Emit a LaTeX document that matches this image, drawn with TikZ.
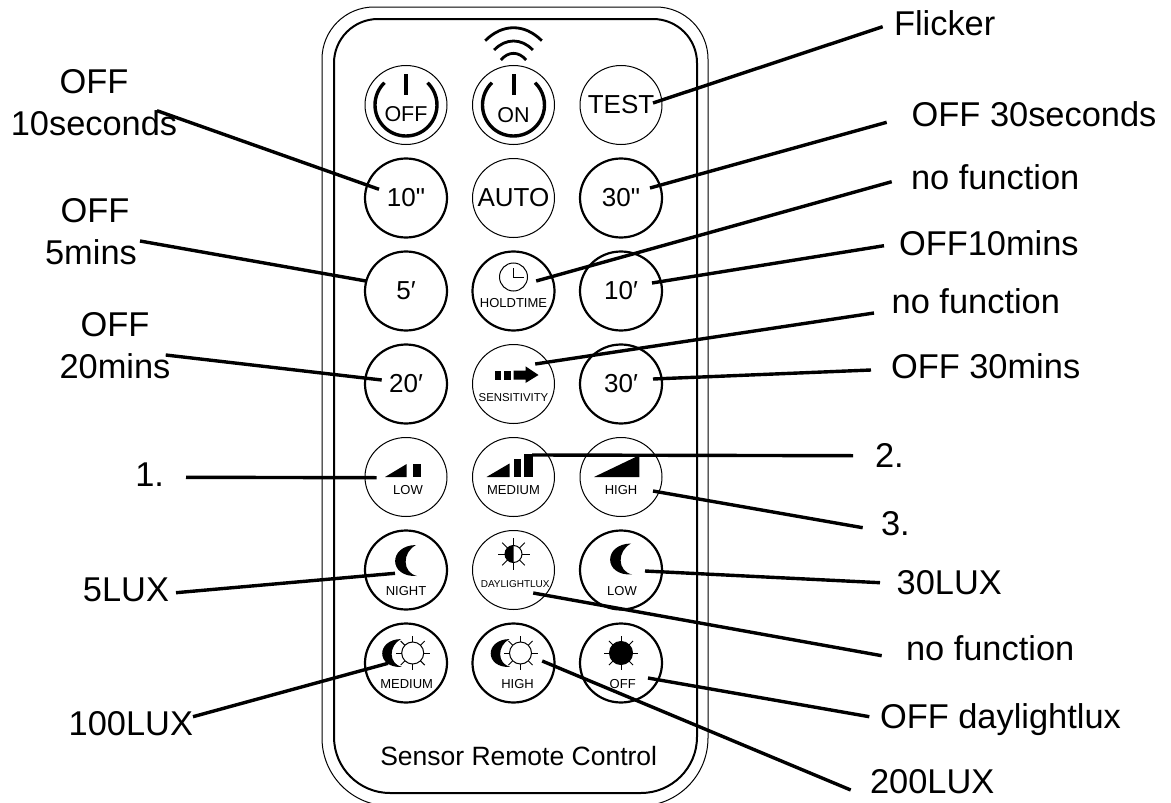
\documentclass[tikz,border=0pt]{standalone}
\usepackage{fontspec}
\setmainfont{Liberation Sans}
\newfontfamily\straightfont{Liberation Sans}[Ligatures=ResetAll]
\usepackage{xcolor}
\usetikzlibrary{positioning,shapes.geometric}

\begin{document}
\begin{tikzpicture}[
  x=1pt, y=-1pt,
  every node/.style={align=center, inner sep=0pt, outer sep=0pt},
  btn/.style={
    draw, ellipse, minimum width=82pt, minimum height=79pt, line width=1pt
  },
  btnb/.style={btn, line width=2.2pt},
  bigtxt/.style={font=\fontsize{26}{30}\selectfont},
  midtxt/.style={font=\fontsize{21.5}{25}\selectfont},
  captxt/.style={font=\fontsize{13}{15}\selectfont},
  note/.style={font=\fontsize{34.4}{41.7}\selectfont},
  lead/.style={line width=3.4pt},
  wave/.style={line width=2.8pt},
  pics/moon/.style={code={
    \fill (10,-15.5) .. controls (-18,-15) and (-18,17) .. (11,15.5)
      .. controls (-4,12) and (-4,-8) .. cycle;
  }},
  pics/sun/.style args={#1/#2}{code={
    \draw[line width=1pt, pic actions] (0,0) circle (#1);
    \foreach \a in {0,45,...,315} \draw[line width=1pt] (\a:#1) -- (\a:#2);
  }},
  pics/power/.style={code={
    \draw[line width=3.4pt] (226:31) arc[start angle=226, end angle=-46, radius=31];
    \draw[line width=4pt] (0,-31) -- (0,-10);
  }}
]
\clip (0,0) rectangle (1171,803);

% housing
\draw[line width=1pt] (322,400) [rounded corners=52pt] -- (322,7) -- (708,7) -- (708,400)
  [rounded corners=68pt] -- (708,806) -- (322,806) -- cycle;
\draw[line width=2pt] (334,400) [rounded corners=44pt] -- (334,19) -- (697,19) -- (697,400)
  [rounded corners=56pt] -- (697,793) -- (334,793) -- cycle;
\node[font=\fontsize{26.5}{30}\selectfont] (title) at (518.7,756) {Sensor Remote Control};

% buttons
\node[btn, label={[midtxt,shift={(0,9)}]center:OFF}] (poweroff) at (406,105) {};
\node[btn, right=25.5pt of poweroff, label={[midtxt,shift={(0,10.5)}]center:ON}] (poweron) {};
\node[btn, right=25.5pt of poweron, label={[bigtxt]center:TEST}] (test) {};

\node[btnb, below=14pt of poweroff, label={[bigtxt]center:\straightfont 10"}] (ten) {};
\node[btn, right=25.5pt of ten, label={[bigtxt]center:AUTO}] (auto) {};
\node[btnb, right=25.5pt of auto, label={[bigtxt]center:\straightfont 30"}] (thirty) {};

\node[btnb, below=14pt of ten, label={[bigtxt]center:5′}] (five) {};
\node[btnb, right=25.5pt of five, label={[captxt,shift={(0,12)}]center:HOLDTIME}] (hold) {};
\node[btnb, right=25.5pt of hold, label={[bigtxt]center:10′}] (tenm) {};

\node[btnb, below=14pt of five, label={[bigtxt]center:20′}] (twenty) {};
\node[btn, right=25.5pt of twenty, label={[font=\fontsize{11.4}{13}\selectfont,shift={(0,14)}]center:SENSITIVITY}] (sens) {};
\node[btnb, right=25.5pt of sens, label={[bigtxt]center:30′}] (thirtym) {};

\node[btn, below=14pt of twenty, label={[captxt,shift={(2,13)}]center:LOW}] (low) {};
\node[btn, right=25.5pt of low, label={[captxt,shift={(0,13)}]center:MEDIUM}] (med) {};
\node[btn, right=25.5pt of med, label={[captxt,shift={(0,13)}]center:HIGH}] (high) {};

\node[btnb, below=14pt of low, label={[captxt,shift={(0,20.7)}]center:NIGHT}] (night) {};
\node[btn, right=25.5pt of night, label={[font=\fontsize{10}{12}\selectfont,shift={(1.7,14)}]center:DAYLIGHTLUX}] (day) {};
\node[btnb, right=25.5pt of day, label={[captxt,shift={(1,20.7)}]center:LOW}] (dim) {};

\node[btnb, below=14pt of night, label={[captxt,shift={(0.7,21)}]center:MEDIUM}] (mix) {};
\node[btnb, right=25.5pt of mix, label={[captxt,shift={(4,21)}]center:HIGH}] (both) {};
\node[btnb, right=25.5pt of both, label={[captxt,shift={(1.7,20.7)}]center:OFF}] (sunoff) {};

% icons
\pic at (poweroff) {power};
\pic at (poweron) {power};
\begin{scope}[shift={(poweron)}]
  \draw[wave] (-28.3,-64.3) .. controls (-11,-81.6) and (11,-81.6) .. (28.3,-64.3);
  \draw[wave] (-19.3,-55) .. controls (-8,-67) and (8,-67) .. (19.3,-55);
  \draw[wave] (-12.6,-45) .. controls (-5,-53.9) and (5,-53.9) .. (12.6,-45);
\end{scope}
\begin{scope}[shift={(hold)}]
  \draw[line width=1pt] (0,-14) circle (14);
  \draw[line width=1pt] (0,-23) -- (0,-14) -- (10,-14);
\end{scope}
\begin{scope}[shift={(sens)}]
  \fill (-19,-13.3) rectangle (-12.3,-4.3);
  \fill (-10,-13.3) rectangle (-2.7,-4.3);
  \fill (0,-13.3) -- (12,-13.3) -- (12,-17.7) -- (25,-9) -- (12,-1) -- (12,-4.3) -- (0,-4.3) -- cycle;
\end{scope}
\begin{scope}[shift={(low)}]
  \fill (-21,0) -- (0.7,0) -- (0.7,-13) -- cycle;
  \fill (7.3,-13) rectangle (14.7,0);
\end{scope}
\begin{scope}[shift={(med)}]
  \fill (-27,0) -- (-4,0) -- (-4,-13.5) -- cycle;
  \fill (0,-18) rectangle (7.7,0);
  \fill (10,-22.7) rectangle (19,0);
\end{scope}
\begin{scope}[shift={(high)}]
  \fill (-27,0) -- (18.3,0) -- (18.3,-21.7) -- cycle;
\end{scope}

\pic at ([shift={(0,-9.5)}]night.center) {moon};
\pic at ([shift={(0,-11)}]dim.center) {moon};
\pic[scale=.9] at ([shift={(-14,-10)}]mix.center) {moon};
\pic at ([shift={(6.7,-10)}]mix.center) {sun={11/17}};
\pic[scale=.9] at ([shift={(-13,-10)}]both.center) {moon};
\pic at ([shift={(7,-10)}]both.center) {sun={11/17}};
\pic[fill=black] at ([shift={(0,-10)}]sunoff.center) {sun={11.5/17}};
\pic at ([shift={(0,-16)}]day.center) {sun={8.5/16}};
\fill ([shift={(0,-24.5)}]day.center) arc[start angle=-90, end angle=-270, radius=8.5] -- cycle;

% labels
\node[note] (offten) at (94,102.7) {OFF\\10seconds};
\node[note] (offfive) at (91,231.7) {\hspace*{8pt}OFF\\5mins};
\node[note] (offtwenty) at (115,345.7) {OFF\\20mins};
\node[note, anchor=base east] (one) at (164,486) {1.};
\node[note, anchor=base east] (lfive) at (169,601) {5LUX};
\node[note, anchor=base east] (lhundred) at (193,735.7) {100LUX};

\node[note, anchor=base west] (flicker) at (894,35.5) {Flicker};
\node[note, anchor=base west] (offthirty) at (911.7,126) {OFF 30seconds};
\node[note, anchor=base west] (nfa) at (911,189) {no function};
\node[note, anchor=base west] (offtenm) at (899,255.3) {OFF10mins};
\node[note, anchor=base west] (nfb) at (891.7,313) {no function};
\node[note, anchor=base west] (offthirtym) at (891,378.3) {OFF 30mins};
\node[note, anchor=base west] (two) at (875,467.7) {2.};
\node[note, anchor=base west] (three) at (881,535.7) {3.};
\node[note, anchor=base west] (lthirty) at (896.7,594.3) {30LUX};
\node[note, anchor=base west] (nfc) at (906,660.7) {no function};
\node[note, anchor=base west] (offday) at (880,728) {OFF daylightlux};
\node[note, anchor=base west] (ltwohundred) at (870,793.3) {200LUX};

% leaders
\draw[lead] ([shift={(63,8)}]offten.center) -- ([shift={(-27,-8.7)}]ten.center);
\draw[lead] ([shift={(49,9.3)}]offfive.center) -- ([shift={(-40,-10)}]five.center);
\draw[lead] ([shift={(50.7,9.3)}]offtwenty.center) -- ([shift={(-24.3,-4)}]twenty.center);
\draw[lead] ([shift={(22,-8.7)}]one.base east) -- ([shift={(-29.3,0.7)}]low.center);
\draw[lead] ([shift={(7,-8.3)}]lfive.base east) -- ([shift={(-11,3.3)}]night.center);
\draw[lead] ([shift={(0,-19)}]lhundred.base east) -- ([shift={(-18,0.3)}]mix.center);

\draw[lead] ([shift={(-11.3,-8.8)}]flicker.base west) -- ([shift={(32,-2)}]test.center);
\draw[lead] ([shift={(-25,-3.7)}]offthirty.base west) -- ([shift={(29,-10)}]thirty.center);
\draw[lead] ([shift={(-19.3,-7.3)}]nfa.base west) -- ([shift={(22.7,-10)}]hold.center);
\draw[lead] ([shift={(-15,-9.6)}]offtenm.base west) -- ([shift={(31,-8)}]tenm.center);
\draw[lead] ([shift={(-17.7,0)}]nfb.base west) -- ([shift={(21.7,-20)}]sens.center);
\draw[lead] ([shift={(-20,-8.3)}]offthirtym.base west) -- ([shift={(32,-5)}]thirtym.center);
\draw[lead] ([shift={(-22,-12)}]two.base west) -- ([shift={(18.7,-22)}]med.center);
\draw[lead] ([shift={(-18.3,-8)}]three.base west) -- ([shift={(32,14)}]high.center);
\draw[lead] ([shift={(-16.7,-11.6)}]lthirty.base west) -- ([shift={(24,1)}]dim.center);
\draw[lead] ([shift={(-24.3,-5)}]nfc.base west) -- ([shift={(19.7,23)}]day.center);
\draw[lead] ([shift={(-10.7,-11.3)}]offday.base west) -- ([shift={(27,15)}]sunoff.center);
\draw[lead] ([shift={(-19.3,-3.3)}]ltwohundred.base west) -- ([shift={(28.7,-2)}]both.center);

\end{tikzpicture}
\end{document}
